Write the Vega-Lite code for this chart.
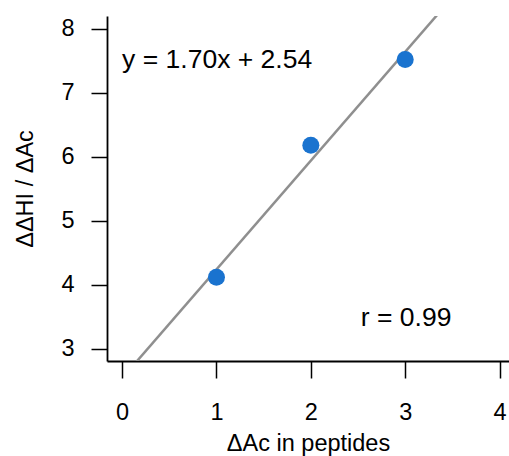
{
  "$schema": "https://vega.github.io/schema/vega-lite/v6.json",
  "width": 402,
  "height": 345,
  "autosize": {"type": "none"},
  "padding": {"left": 107, "top": 16, "right": 0, "bottom": 95},
  "background": "white",
  "config": {
    "view": {"stroke": null},
    "font": "Liberation Sans",
    "axis": {"grid": false, "domainColor": "black", "tickColor": "black", "labelColor": "black", "titleColor": "black", "labelFont": "Liberation Sans", "titleFont": "Liberation Sans", "titleFontWeight": "normal"}
  },
  "datasets": {
    "pts": [
      {"x": 1, "y": 4.12},
      {"x": 2, "y": 6.18},
      {"x": 3, "y": 7.52}
    ],
    "fit": [
      {"x": 0, "y": 2.54},
      {"x": 4, "y": 9.34}
    ],
    "notes": [
      {"x": 0, "y": 7.52, "label": "y = 1.70x + 2.54"},
      {"x": 2.53, "y": 3.48, "label": "r = 0.99"}
    ]
  },
  "layer": [
    {
      "data": {"name": "fit"},
      "mark": {"type": "line", "color": "#8f8f8f", "strokeWidth": 2.5, "clip": true},
      "encoding": {
        "x": {
          "field": "x", "type": "quantitative",
          "scale": {"domain": [-0.16, 4.1], "nice": false, "zero": false},
          "axis": {
            "values": [0, 1, 2, 3, 4],
            "format": "d",
            "title": "ΔAc in peptides",
            "titleFontSize": 23.5,
            "titlePadding": 8,
            "labelFontSize": 23.5,
            "labelPadding": 22,
            "tickSize": 17,
            "tickWidth": 1.5,
            "domainWidth": 1.8,
            "labelFlush": false
          }
        },
        "y": {
          "field": "y", "type": "quantitative",
          "scale": {"domain": [2.81, 8.2], "nice": false, "zero": false},
          "axis": {
            "values": [3, 4, 5, 6, 7, 8],
            "format": "d",
            "title": "ΔΔHI / ΔAc",
            "titleFontSize": 23.5,
            "titlePadding": 23,
            "labelFontSize": 23.5,
            "labelPadding": 17,
            "tickSize": 16,
            "tickWidth": 1.5,
            "domainWidth": 1.8,
            "labelFlush": false
          }
        }
      }
    },
    {
      "data": {"name": "pts"},
      "mark": {"type": "circle", "size": 290, "color": "#1a73cf", "opacity": 1},
      "encoding": {
        "x": {"field": "x", "type": "quantitative"},
        "y": {"field": "y", "type": "quantitative"}
      }
    },
    {
      "data": {"name": "notes"},
      "mark": {"type": "text", "align": "left", "baseline": "middle", "fontSize": 26.5, "color": "black", "font": "Liberation Sans"},
      "encoding": {
        "x": {"field": "x", "type": "quantitative"},
        "y": {"field": "y", "type": "quantitative"},
        "text": {"field": "label"}
      }
    }
  ]
}
